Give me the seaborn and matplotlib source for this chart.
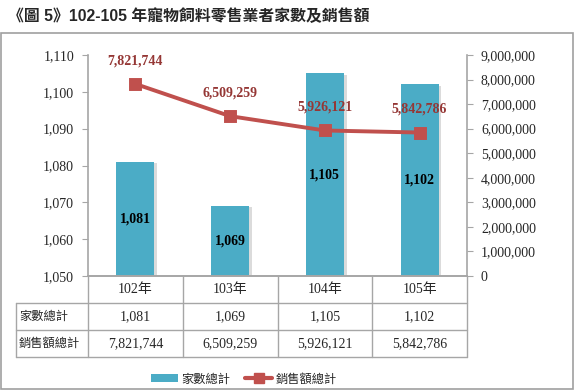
import matplotlib
matplotlib.use('Agg')
import matplotlib.pyplot as plt
import matplotlib.patheffects as pe
from matplotlib.patches import Rectangle, Patch
from matplotlib.lines import Line2D
import seaborn as sns

# data
years = ['102年', '103年', '104年', '105年']
counts = [1081, 1069, 1105, 1102]
sales = [7821744, 6509259, 5926121, 5842786]
row_names = ['家數總計', '銷售額總計']
title = '《圖 5》102-105 年寵物飼料零售業者家數及銷售額'

sns.set_style('white')
SERIF = ['Liberation Serif', 'Noto Sans CJK TC']
CJK = ['Noto Sans CJK TC', 'DejaVu Sans']
plt.rcParams['font.family'] = SERIF

BLUE = '#4BACC6'
RED = '#C0504D'
LBL_RED = '#953735'
GRID = '#A6A6A6'

W, H = 575, 391
fig = plt.figure(figsize=(W / 100, H / 100), dpi=100)

# overlay axes in pixel coordinates for frame, title and table
bg = fig.add_axes([0, 0, 1, 1])
bg.set_xlim(0, W)
bg.set_ylim(H, 0)
bg.axis('off')
bg.add_patch(Rectangle((1, 33), W - 3, H - 35, fill=False, ec='#A0A0A0', lw=1.2))
bg.text(8, 16, title, fontsize=11.4, fontweight='bold', va='center', ha='left',
        family=['Liberation Sans', 'Noto Sans CJK TC'])

L, R, T, B = 88, 467, 55, 276
ax = fig.add_axes([L / W, 1 - B / H, (R - L) / W, (B - T) / H])

sns.barplot(x=years, y=counts, color=BLUE, saturation=1, width=0.4, linewidth=0, ax=ax)
for bar in ax.patches:
    bar.set_path_effects([pe.SimplePatchShadow(offset=(2, -1), shadow_rgbFace='#888888', alpha=0.3),
                          pe.Normal()])
ax.set_ylim(1050, 1110)
ax.set_yticks(range(1050, 1111, 10))
ax.set_yticklabels([f'{v:,}' for v in range(1050, 1111, 10)], fontsize=10)
for i, v in enumerate(counts):
    ax.text(i, (1050 + v) / 2, f'{v:,}', ha='center', va='center', fontsize=10,
            fontweight='bold', color='black', zorder=5)

ax2 = ax.twinx()
sns.pointplot(x=years, y=sales, color=RED, markers='s', ax=ax2,
              linewidth=2.8, markersize=7)
ax2.set_ylim(0, 9000000)
ax2.set_yticks(range(0, 9000001, 1000000))
ax2.set_yticklabels([f'{v:,}' for v in range(0, 9000001, 1000000)], fontsize=10)
for i, v in enumerate(sales):
    ax2.annotate(f'{v:,}', (i, v), xytext=(0, 12), textcoords='offset points',
                 ha='center', va='bottom', fontsize=10, fontweight='bold', color=LBL_RED)

for a in (ax, ax2):
    a.set_xlim(-0.5, 3.5)
    a.set_xlabel('')
    a.set_ylabel('')
    a.tick_params(axis='x', labelbottom=False, length=0)
    a.tick_params(axis='y', length=4, color=GRID, direction='out', pad=6)
    a.spines['top'].set_visible(False)
    for s in ('left', 'right', 'bottom'):
        a.spines[s].set_color(GRID)
        a.spines[s].set_linewidth(1.2)
ax.spines['right'].set_visible(False)
ax2.spines['left'].set_visible(False)

# data table below the plot
col_w = (R - L) / len(years)
rows_y = [B, 303, 330, 357]
TL = 16
for y in rows_y[1:]:
    bg.plot([TL, R], [y, y], color=GRID, lw=1)
for i in range(len(years) + 1):
    x = L + i * col_w
    bg.plot([x, x], [B, rows_y[-1]], color=GRID, lw=1)
bg.plot([TL, TL], [rows_y[1], rows_y[-1]], color=GRID, lw=1)

table_vals = [counts, sales]
for i, yr in enumerate(years):
    cx = L + (i + 0.5) * col_w
    bg.text(cx, (rows_y[0] + rows_y[1]) / 2, yr, ha='center', va='center', fontsize=10, family=SERIF)
    for r, vals in enumerate(table_vals):
        bg.text(cx, (rows_y[r + 1] + rows_y[r + 2]) / 2, f'{vals[i]:,}', ha='center', va='center',
                fontsize=10, family=SERIF)
for r, name in enumerate(row_names):
    bg.text(TL + 3, (rows_y[r + 1] + rows_y[r + 2]) / 2, name, ha='left', va='center',
            fontsize=8.8, family=CJK)

handles = [Patch(facecolor=BLUE, edgecolor='none'),
           Line2D([], [], color=RED, lw=3, marker='s', ms=7)]
fig.legend(handles, row_names, loc='center', bbox_to_anchor=(244 / W, 1 - 379 / H), ncol=2,
           frameon=False, prop={'family': CJK, 'size': 8.8}, handlelength=2.2,
           handleheight=0.6, columnspacing=1.2, handletextpad=0.3)

fig.savefig('out.png', dpi=100)
